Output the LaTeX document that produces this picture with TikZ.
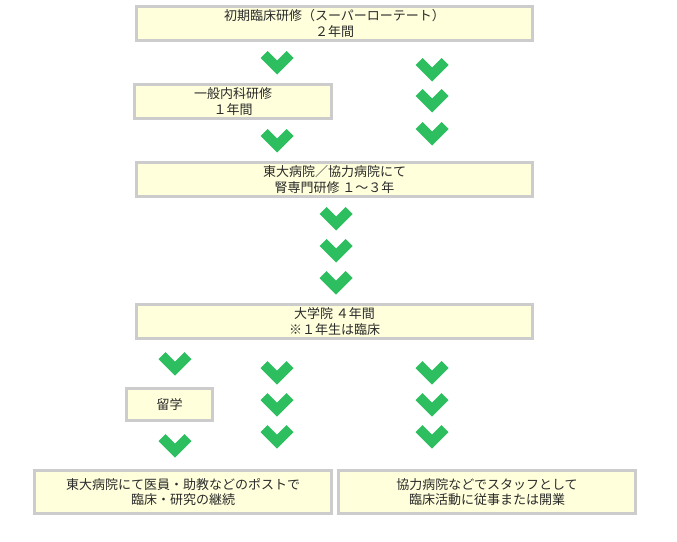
\documentclass[tikz,border=0pt]{standalone}
\usepackage{fontspec}
\setmainfont{Noto Sans CJK JP}
\definecolor{boxfill}{HTML}{FFFFDC}
\definecolor{boxline}{HTML}{CCCCCC}
\definecolor{txt}{HTML}{2A2A2A}
\definecolor{chevgreen}{HTML}{2DBE60}
\tikzset{
  stagebox/.style={draw=boxline, fill=boxfill, line width=3pt, inner sep=0pt,
    align=center, text=txt, font=\fontsize{13}{15.5}\selectfont},
  chev/.pic={\fill[chevgreen] (-16.5,7) -- (-9.5,0) -- (0,9.5) -- (9.5,0) -- (16.5,7) -- (0,23.5) -- cycle;}
}
\begin{document}
\begin{tikzpicture}[x=1pt,y=-1pt]
\useasboundingbox (0,0) rectangle (677,541);
\node[stagebox, minimum width=396pt, minimum height=34pt] (b1) at (334.5,23.5) {初期臨床研修（スーパーローテート）\\２年間};
\node[stagebox, minimum width=197pt, minimum height=34pt] (b2) at (233,101.5) {一般内科研修\\１年間};
\node[stagebox, minimum width=396pt, minimum height=34pt] (b3) at (334.5,179.5) {東大病院／協力病院にて\\腎専門研修 １～３年};
\node[stagebox, minimum width=396pt, minimum height=34pt] (b4) at (334.5,321.5) {大学院 ４年間\\※１年生は臨床};
\node[stagebox, minimum width=86pt, minimum height=32pt] (b5) at (169.5,404.5) {留学};
\node[stagebox, minimum width=297pt, minimum height=43pt] (b6) at (183,492) {東大病院にて医員・助教などのポストで\\臨床・研究の継続};
\node[stagebox, minimum width=297pt, minimum height=43pt] (b7) at (487,492) {協力病院などでスタッフとして\\臨床活動に従事または開業};
\foreach \cx/\cy in {277/51, 277/129, 432/58, 432/89, 432/122,
  336/207, 336/239, 336/271,
  175/352, 175/434, 277/361, 277/393, 277/425, 432/361, 432/393, 432/425}
  \pic at (\cx,\cy) {chev};
\end{tikzpicture}
\end{document}
